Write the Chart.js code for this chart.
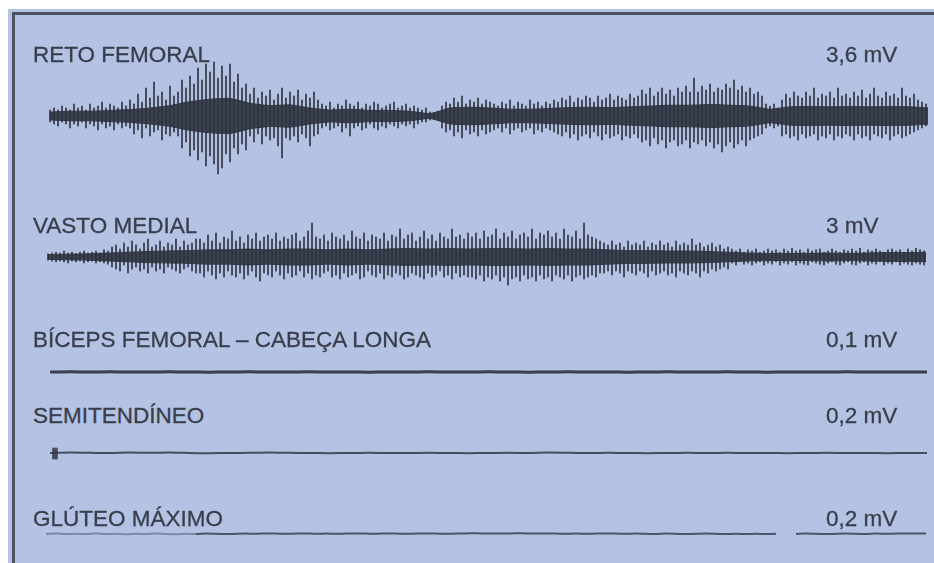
<!DOCTYPE html>
<html>
<head>
<meta charset="utf-8">
<script src="https://cdn.jsdelivr.net/npm/chart.js@4.4.1/dist/chart.umd.min.js"></script>
<style>
  html, body { margin: 0; padding: 0; background: #ffffff; width: 934px; height: 563px; overflow: hidden; }
  #painel { position: absolute; left: 8px; top: 9px; width: 926px; height: 554px; background: #b4c2e4; }
  #moldura { position: absolute; left: 12px; top: 12px; right: 0; bottom: 0;
             border-top: 3px solid #4d5262; border-left: 3px solid #4d5262; }
  .rotulo { position: absolute; font-family: "Liberation Sans", Arial, sans-serif; font-size: 22.5px;
            color: #393e4b; white-space: nowrap; line-height: 22px; -webkit-text-stroke: 0.3px #393e4b; }
  canvas { position: absolute; }
</style>
</head>
<body>
<div id="painel"></div>
<div id="moldura"></div>
<canvas id="c0"></canvas>
<canvas id="c1"></canvas>
<canvas id="c2"></canvas>
<canvas id="c3"></canvas>
<canvas id="c4"></canvas>
<script>
// Músculos e escalas de amplitude de cada canal
const musculos = ["RETO FEMORAL", "VASTO MEDIAL", "BÍCEPS FEMORAL – CABEÇA LONGA", "SEMITENDÍNEO", "GLÚTEO MÁXIMO"];
const escalas = ["3,6 mV", "3 mV", "0,1 mV", "0,2 mV", "0,2 mV"];

// Reto femoral: picos positivos e negativos por amostra (mV)
const retoPicos = [
  .15,.2,.15,.25,.2,.15,.3,.2,.25,.15,.3,.2,.25,.35,.2,.3,.25,.2,.35,.25,
  .4,.3,.55,.35,.7,.45,.85,.5,.6,.4,.75,.5,
  .6,.9,.7,1.0,.8,1.2,.9,1.3,1.1,1.35,.95,1.25,1.0,1.3,.85,1.05,.7,.8,
  .55,.7,.45,.6,.5,.65,.4,.55,.7,.45,.6,.5,.65,.4,.55,.45,.6,.4,
  .3,.25,.35,.2,.3,.25,.4,.3,.25,.35,.2,.3,.25,.35,.3,.2,.25,.3,.35,.2,.25,.3,.2,.25,.2,.15,.2,
  .1,.08,.12,
  .25,.35,.3,.45,.35,.5,.3,.4,.35,.45,.3,.4,.35,
  .3,.25,.35,.3,.4,.25,.35,.3,.25,.4,.3,.35,.25,.35,.3,.4,
  .35,.45,.4,.5,.35,.45,.4,.5,.45,.35,.5,.4,.45,.55,.4,.5,.45,.4,.55,.45,
  .5,.65,.55,.7,.5,.6,.7,.55,.65,.5,.7,.6,.75,.6,.95,
  .6,.75,.65,.8,.6,.7,.65,.8,.7,.9,.65,.75,.6,.7,.55,.6,.5,
  .3,.25,.3,.2,
  .4,.55,.45,.6,.5,.45,.6,.5,.7,.45,.55,.5,.6,.45,.7,.5,.55,.45,.6,.5,.65,.45,.55,.7,.5,.45,.6,.5,.55,.45,.7,.5,.45,.55,.4,.35,.3
];
const retoVales = [
  -.15,-.2,-.25,-.15,-.2,-.3,-.2,-.25,-.15,-.3,-.2,-.25,-.35,-.2,-.3,-.25,-.35,-.2,-.3,-.25,
  -.3,-.45,-.35,-.55,-.3,-.5,-.4,-.35,-.6,-.45,-.5,-.4,
  -.5,-.8,-.65,-1.0,-.85,-1.1,-.9,-1.25,-1.0,-1.2,-1.45,-1.3,-.95,-1.15,-.8,-.95,-.7,-.85,
  -.5,-.65,-.45,-.7,-.5,-.6,-.55,-.75,-1.05,-.55,-.6,-.5,-.65,-.45,-.55,-.75,-.5,-.45,
  -.3,-.25,-.35,-.3,-.25,-.4,-.3,-.5,-.3,-.25,-.35,-.3,-.2,-.3,-.35,-.25,-.3,-.2,-.25,-.3,-.2,-.25,-.2,-.3,-.2,-.15,-.15,
  -.1,-.08,-.1,
  -.3,-.4,-.35,-.5,-.4,-.55,-.35,-.45,-.4,-.5,-.35,-.45,-.4,
  -.35,-.3,-.4,-.3,-.45,-.35,-.3,-.4,-.35,-.3,-.45,-.35,-.4,-.3,-.35,-.4,
  -.45,-.5,-.4,-.55,-.45,-.6,-.5,-.45,-.55,-.4,-.5,-.6,-.45,-.55,-.5,-.45,-.6,-.5,-.55,-.45,
  -.55,-.65,-.6,-.75,-.55,-.7,-.6,-.8,-.65,-.6,-.75,-.7,-.6,-.8,-.65,
  -.7,-.6,-.75,-.65,-.8,-.7,-.9,-.75,-.65,-.8,-.7,-.6,-.75,-.6,-.55,-.5,-.45,
  -.3,-.25,-.3,-.25,
  -.5,-.45,-.55,-.5,-.6,-.45,-.55,-.5,-.45,-.6,-.5,-.55,-.45,-.6,-.5,-.55,-.45,-.5,-.6,-.45,-.55,-.5,-.6,-.45,-.5,-.55,-.45,-.6,-.5,-.45,-.55,-.5,-.45,-.4,-.35,-.3,-.25
];
// Faixa central densa do sinal (mV), uma a cada 5 amostras
const retoNucleo = [
  .1,.12,.12,.14,.16,.2,.26,.36,.42,.44,.32,.26,.28,.2,.15,.17,.14,.14,.12,.06,
  .2,.22,.2,.17,.17,.19,.21,.22,.21,.23,.25,.27,.27,.29,.27,.25,.17,.23,.24,.23,
  .24,.23,.24,.23,.2
];

// Vasto medial (mV)
const vastoPicos = [
  .08,.1,.12,.1,.15,.1,.12,.08,.12,.15,.1,.12,.15,.1,.18,.15,
  .25,.3,.2,.35,.25,.4,.3,.2,.35,.45,.25,.3,.4,.25,.35,.3,.45,.25,.4,.3,.35,.45,
  .45,.35,.55,.4,.6,.35,.5,.45,.65,.4,.5,.35,.55,.45,.6,.4,.5,.55,.45,.6,.4,.5,.45,.55,.6,.4,.5,.65,.85,.5,
  .45,.55,.4,.6,.5,.45,.55,.4,.65,.5,.45,.6,.4,.55,.5,.45,.6,.4,.55,.5,.7,.45,.55,.6,.4,.5,.65,.45,.55,.4,
  .6,.5,.45,.7,.5,.55,.45,.6,
  .5,.6,.45,.65,.5,.55,.7,.45,.6,.5,.65,.45,.55,.6,.5,.7,.45,.6,.55,.65,.5,.6,.45,.7,.55,.5,.65,.45,.85,.55,.5,.45,.4,
  .35,.3,.4,.3,.35,.25,.4,.3,.35,.3,.4,.25,.35,.3,.4,.3,.35,.25,.4,.3,.35,.3,.45,.3,.35,.25,.3,.35,.25,.3,.2,.25,
  .2,.15,.2,.12,.18,.15,.2,.12,.15,.2,.15,.18,.12,.2,.15,.22,.15,.18,.12,.2,.15,.18,.2,.12,.15,
  .2,.15,.12,.18,.15,.2,.15,.22,.12,.18,.15,.2,.15,.12,.18,.2,.15,.18,.12,.2,.15,.22,.18,.15
];
const vastoVales = [
  -.08,-.1,-.12,-.1,-.12,-.15,-.1,-.12,-.1,-.15,-.12,-.1,-.15,-.12,-.15,-.18,
  -.25,-.3,-.35,-.2,-.4,-.3,-.25,-.35,-.3,-.4,-.25,-.35,-.3,-.4,-.25,-.3,-.35,-.4,-.3,-.25,-.35,-.4,
  -.4,-.5,-.35,-.45,-.55,-.4,-.5,-.35,-.45,-.5,-.4,-.55,-.45,-.35,-.5,-.6,-.4,-.45,-.5,-.35,-.45,-.55,-.4,-.5,
  -.45,-.35,-.5,-.4,-.55,-.45,-.5,-.4,-.35,-.5,-.45,-.55,-.4,-.5,-.45,-.4,-.55,-.5,-.35,-.45,-.5,-.4,-.55,-.45,
  -.5,-.4,-.45,-.55,-.5,-.4,-.45,-.5,-.55,-.4,-.5,-.45,-.35,-.5,-.45,-.55,-.4,-.5,-.45,-.5,
  -.5,-.55,-.45,-.6,-.5,-.55,-.45,-.6,-.5,-.7,-.55,-.5,-.6,-.45,-.55,-.5,-.6,-.45,-.55,-.5,-.6,-.45,-.5,-.55,-.45,-.6,-.5,-.45,-.55,-.5,-.45,-.5,-.4,
  -.4,-.35,-.45,-.35,-.4,-.5,-.35,-.4,-.45,-.35,-.4,-.5,-.35,-.45,-.4,-.35,-.45,-.4,-.5,-.35,-.4,-.45,-.35,-.4,-.5,-.35,-.4,-.3,-.35,-.3,-.25,-.3,
  -.15,-.2,-.12,-.18,-.15,-.2,-.15,-.12,-.2,-.15,-.18,-.12,-.2,-.15,-.18,-.12,-.2,-.15,-.18,-.2,
  -.12,-.15,-.18,-.2,-.15,-.12,-.18,-.2,-.15,-.12,-.18,-.2,-.15,-.12,-.2,-.15,-.18,-.12,-.2,-.15,
  -.18,-.12,-.2,-.15,-.18,-.2,-.15,-.18,-.2
];
const vastoNucleo = [
  .06,.07,.08,.1,.12,.14,.15,.16,.18,.18,.2,.18,.2,.2,.18,.2,.18,.2,.21,.2,
  .21,.2,.21,.21,.2,.21,.2,.2,.18,.16,.16,.15,.15,.14,.12,.1,.09,.09,.09,.1,
  .09,.1,.11,.11,.12
];

// Canais de baixa amplitude (mV)
const bicepsSinal = [
  0,.0005,0,.0005,0,0,.0005,0,-.0005,0,.0005,0,0,.0005,0,0,-.0005,0,0,.0005,
  0,0,.0005,0,-.0005,0,.0005,0,0,-.0005,0,.0005,0,0,.0005,0,-.0005,0,0,0,
  .0005,0,0,0,0
];
const semiSinal = [
  0,.002,.001,0,.002,.001,.002,0,-.001,0,.001,.002,.001,0,-.001,0,.001,0,0,.001,
  0,-.001,0,.001,0,.002,.001,0,.001,0,-.001,0,.001,0,.001,0,0,-.001,0,.001,
  0,0,-.001,0,0
];
// Deflexão inicial do semitendíneo (mV, mínimo e máximo)
const semiInicio = [-0.03, 0.025];
const gluteoSinal = [
  0,.002,0,.001,0,.002,0,.001,-.001,.001,
  0,.002,0,-.001,.001,0,.002,.001,0,.001,
  .002,.001,.003,.002,.001,.002,.003,.001,.002,.001,
  .002,.003,.002,.001,.003,.002,.001,.002,.003,.002,
  .001,.002,.003,.004,.002,.003,.002,.004,.003,.002,
  .003,.002,.001,.002,.001,.002,.003,.002,.001,.002,
  .001,0,.002,.001,0,.001,.002,.001,0,.001,
  0,.001,0,.001,null,0,.002,.001,0,.001,
  .002,.001,0,.002,.001,.002,.003,.002,.003
];

// Posição dos rótulos (linha de base) e das faixas de cada canal
const layoutRotulos = [62, 233, 347, 423, 526];
const tinta = "rgba(44,48,60,0.8)";
const tintaForte = "rgba(44,48,60,0.88)";

musculos.forEach((nome, k) => {
  const a = document.createElement("div");
  a.className = "rotulo";
  a.textContent = nome;
  a.style.left = "33px";
  a.style.top = (layoutRotulos[k] - 18) + "px";
  document.body.appendChild(a);
  const b = document.createElement("div");
  b.className = "rotulo";
  b.textContent = escalas[k];
  b.style.left = "826px";
  b.style.top = (layoutRotulos[k] - 18) + "px";
  document.body.appendChild(b);
});

function posiciona(id, left, top, width, height) {
  const c = document.getElementById(id);
  c.width = width; c.height = height;
  c.style.left = left + "px"; c.style.top = top + "px";
  return c;
}

const baseOpts = (xmax, xmin, ymax) => ({
  responsive: false, animation: false, devicePixelRatio: 1, events: [],
  layout: { padding: 0, autoPadding: false },
  plugins: { legend: { display: false }, tooltip: { enabled: false } },
  scales: {
    x: { type: "linear", display: false, offset: false, min: xmin, max: xmax },
    y: { display: false, min: -ymax, max: ymax }
  }
});

// Canais com atividade: picos como barras flutuantes + faixa central preenchida
function canalEMG(id, left, top, height, picos, vales, nucleo, faixa) {
  const cv = posiciona(id, left, top, 880, height);
  new Chart(cv, {
    type: "bar",
    data: {
      datasets: [
        { type: "line", data: nucleo.map((v, j) => ({ x: 5 * j, y: v })), borderColor: tintaForte,
          borderWidth: 1, pointRadius: 0, tension: 0.15, fill: "+1", backgroundColor: tintaForte, order: 2 },
        { type: "line", data: nucleo.map((v, j) => ({ x: 5 * j, y: -v })), borderColor: tintaForte,
          borderWidth: 1, pointRadius: 0, tension: 0.15, fill: false, order: 2 },
        { data: picos.map((v, i) => ({ x: i, y: [vales[i], v] })), backgroundColor: tinta,
          barThickness: 1.4, borderWidth: 0, order: 1 }
      ]
    },
    options: baseOpts(219.5, -0.5, faixa / 2)
  });
}

canalEMG("c0", 48, 44, 144, retoPicos, retoVales, retoNucleo, 3.6);
canalEMG("c1", 46, 197, 120, vastoPicos, vastoVales, vastoNucleo, 3.0);

// Canais de baixa amplitude como traços contínuos
function canalLinha(id, left, top, width, sinal, faixa, estilo, extras) {
  const cv = posiciona(id, left, top, width, 40);
  new Chart(cv, {
    type: "line",
    data: {
      datasets: [Object.assign({
        data: sinal.map((v, i) => ({ x: i, y: v })),
        pointRadius: 0, tension: 0.3, spanGaps: false, fill: false
      }, estilo)].concat(extras || [])
    },
    options: baseOpts(sinal.length - 1, 0, faixa / 2)
  });
}

canalLinha("c2", 50, 352, 877, bicepsSinal, 0.1, { borderColor: "rgba(44,48,60,0.9)", borderWidth: 3 });
canalLinha("c3", 50, 433, 877, semiSinal, 0.2, { borderColor: "rgba(44,48,60,0.8)", borderWidth: 2 }, [
  { type: "bar", data: [{ x: 0.25, y: semiInicio }], backgroundColor: "rgba(44,48,60,0.8)",
    barThickness: 5, borderWidth: 0 }
]);
canalLinha("c4", 46, 514, 880, gluteoSinal, 0.2, {
  borderColor: "rgba(44,48,60,0.75)", borderWidth: 2,
  segment: { borderColor: ctx => ctx.p0DataIndex < 15 ? "rgba(44,48,60,0.4)" : undefined }
});
</script>
</body>
</html>
